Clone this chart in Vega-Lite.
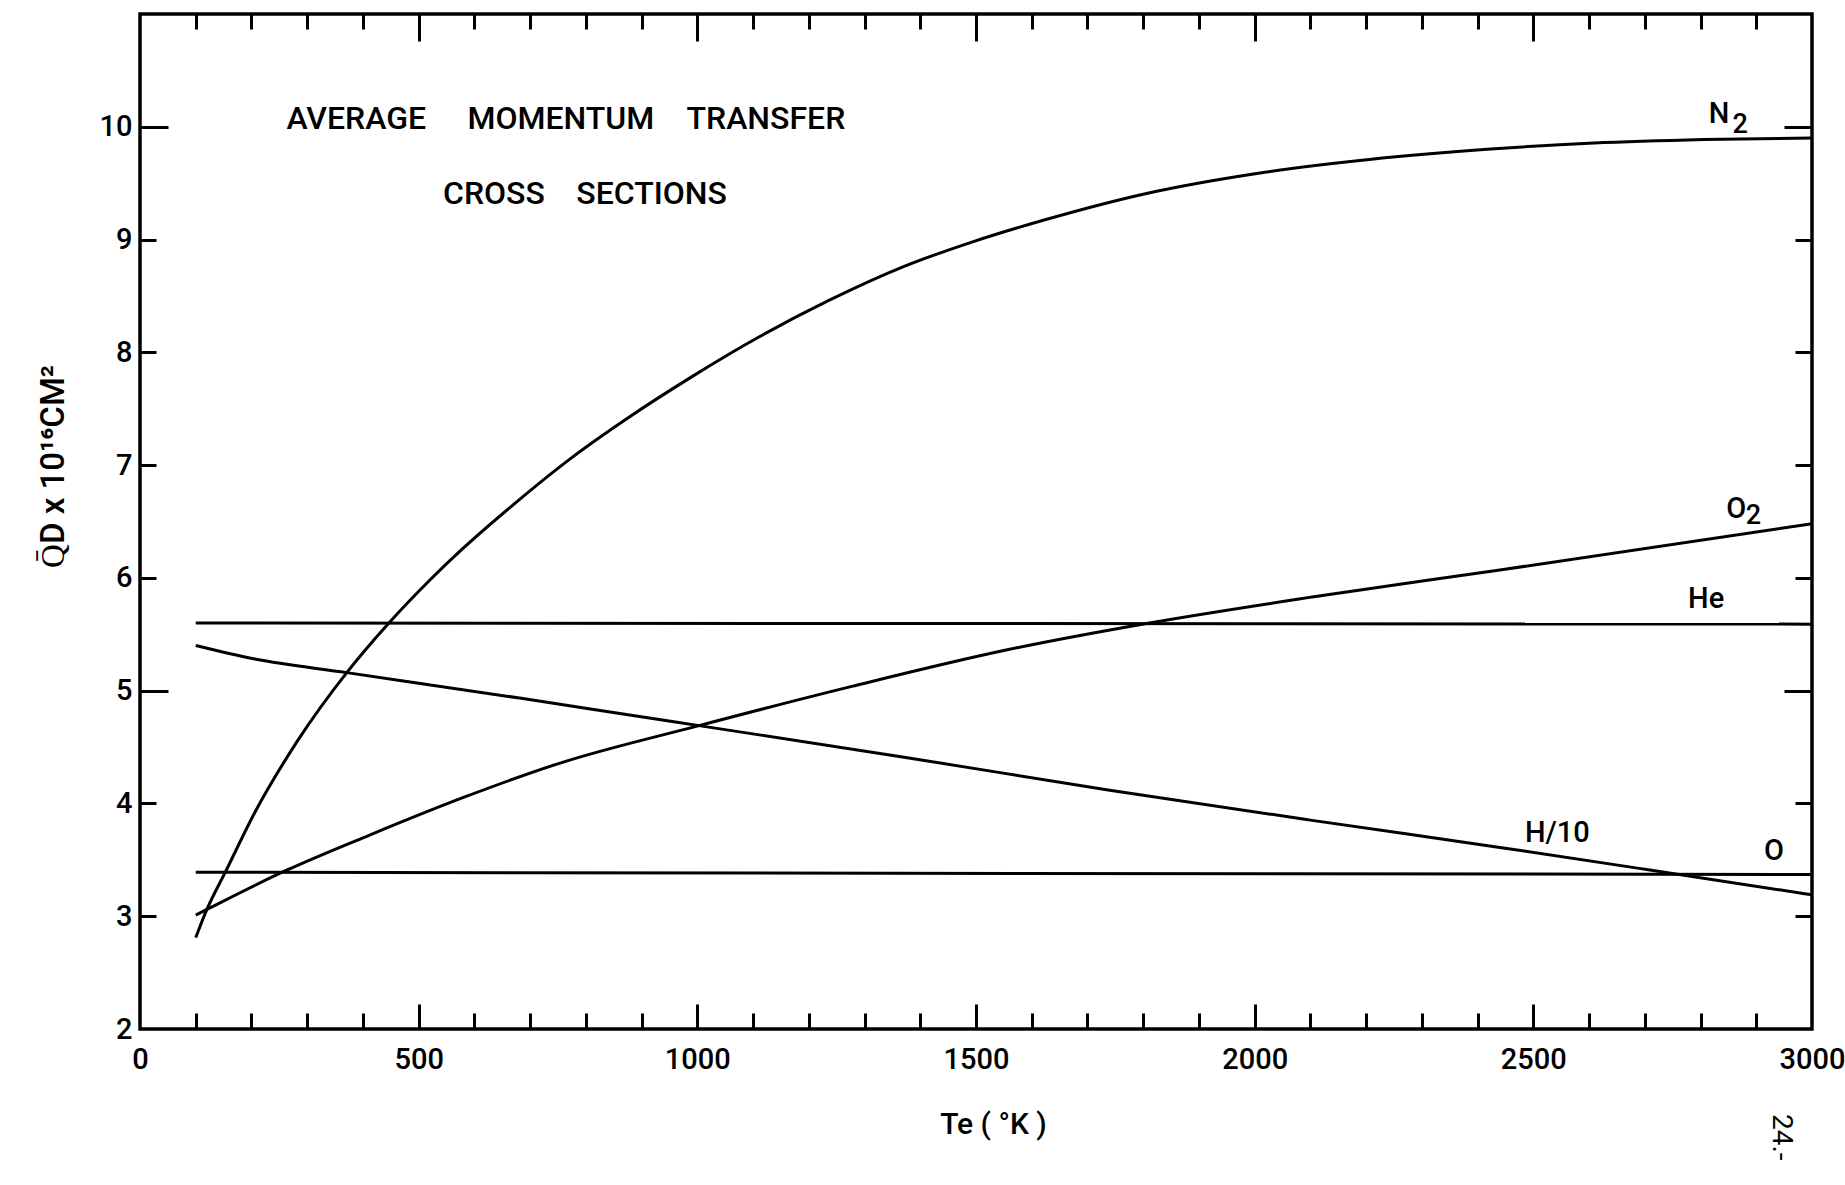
{
  "$schema": "https://vega.github.io/schema/vega-lite/v6.json",
  "autosize": {"type": "none"},
  "padding": {"left": 140, "top": 14, "right": 33, "bottom": 156},
  "width": 1672,
  "height": 1015,
  "background": "white",
  "config": {
    "view": {"stroke": "black", "strokeWidth": 3.5},
    "axis": {"domain": false, "grid": false, "tickColor": "black", "tickWidth": 3, "labelFont": "Roboto", "labelFontWeight": 500, "labelFontSize": 29, "labelColor": "black", "titleFont": "Roboto", "titleFontWeight": 500, "titleFontSize": 29, "titleColor": "black"},
    "text": {"font": "Roboto", "fontWeight": 500, "color": "black"}
  },
  "datasets": {
    "curves": [
      {"gas": "N2", "Te": 100, "Q": 2.81}, {"gas": "N2", "Te": 120, "Q": 3.06}, {"gas": "N2", "Te": 154, "Q": 3.40}, {"gas": "N2", "Te": 206, "Q": 3.92}, {"gas": "N2", "Te": 282, "Q": 4.55}, {"gas": "N2", "Te": 371, "Q": 5.16}, {"gas": "N2", "Te": 443, "Q": 5.58}, {"gas": "N2", "Te": 522, "Q": 5.99}, {"gas": "N2", "Te": 577, "Q": 6.25}, {"gas": "N2", "Te": 670, "Q": 6.65}, {"gas": "N2", "Te": 773, "Q": 7.06}, {"gas": "N2", "Te": 876, "Q": 7.42}, {"gas": "N2", "Te": 989, "Q": 7.78}, {"gas": "N2", "Te": 1112, "Q": 8.14}, {"gas": "N2", "Te": 1236, "Q": 8.46}, {"gas": "N2", "Te": 1370, "Q": 8.76}, {"gas": "N2", "Te": 1494, "Q": 8.98}, {"gas": "N2", "Te": 1627, "Q": 9.18}, {"gas": "N2", "Te": 1816, "Q": 9.42}, {"gas": "N2", "Te": 1995, "Q": 9.58}, {"gas": "N2", "Te": 2206, "Q": 9.71}, {"gas": "N2", "Te": 2417, "Q": 9.80}, {"gas": "N2", "Te": 2627, "Q": 9.86}, {"gas": "N2", "Te": 2838, "Q": 9.89}, {"gas": "N2", "Te": 3000, "Q": 9.90},
      {"gas": "O2", "Te": 100, "Q": 3.01}, {"gas": "O2", "Te": 120, "Q": 3.06}, {"gas": "O2", "Te": 264, "Q": 3.41}, {"gas": "O2", "Te": 412, "Q": 3.72}, {"gas": "O2", "Te": 584, "Q": 4.06}, {"gas": "O2", "Te": 755, "Q": 4.36}, {"gas": "O2", "Te": 1003, "Q": 4.69}, {"gas": "O2", "Te": 1279, "Q": 5.04}, {"gas": "O2", "Te": 1554, "Q": 5.36}, {"gas": "O2", "Te": 1811, "Q": 5.60}, {"gas": "O2", "Te": 2103, "Q": 5.83}, {"gas": "O2", "Te": 2440, "Q": 6.07}, {"gas": "O2", "Te": 3000, "Q": 6.48},
      {"gas": "H/10", "Te": 100, "Q": 5.40}, {"gas": "H/10", "Te": 206, "Q": 5.28}, {"gas": "H/10", "Te": 371, "Q": 5.16}, {"gas": "H/10", "Te": 687, "Q": 4.93}, {"gas": "H/10", "Te": 858, "Q": 4.80}, {"gas": "H/10", "Te": 1003, "Q": 4.69}, {"gas": "H/10", "Te": 1371, "Q": 4.41}, {"gas": "H/10", "Te": 1737, "Q": 4.12}, {"gas": "H/10", "Te": 2103, "Q": 3.85}, {"gas": "H/10", "Te": 2440, "Q": 3.61}, {"gas": "H/10", "Te": 2709, "Q": 3.41}, {"gas": "H/10", "Te": 3000, "Q": 3.19},
      {"gas": "He", "Te": 100, "Q": 5.60}, {"gas": "He", "Te": 3000, "Q": 5.59},
      {"gas": "O", "Te": 100, "Q": 3.39}, {"gas": "O", "Te": 3000, "Q": 3.37}
    ],
    "curveLabels": [
      {"text": "N", "Te": 2833, "Q": 10.11, "size": 29},
      {"text": "2", "Te": 2871, "Q": 10.02, "size": 27},
      {"text": "O", "Te": 2864, "Q": 6.61, "size": 29},
      {"text": "2", "Te": 2895, "Q": 6.55, "size": 27},
      {"text": "He", "Te": 2810, "Q": 5.81, "size": 29},
      {"text": "H/10", "Te": 2543, "Q": 3.74, "size": 29},
      {"text": "O", "Te": 2932, "Q": 3.58, "size": 29}
    ],
    "heading": [
      {"text": "AVERAGE", "Te": 388, "Q": 10.07},
      {"text": "MOMENTUM", "Te": 755, "Q": 10.07},
      {"text": "TRANSFER", "Te": 1123, "Q": 10.07},
      {"text": "CROSS", "Te": 635, "Q": 9.40},
      {"text": "SECTIONS", "Te": 918, "Q": 9.40}
    ],
    "page": [
      {"text": "24.-", "Te": 2945, "Q": 1.04}
    ]
  },
  "layer": [
    {
      "data": {"name": "curves"},
      "transform": [{"filter": "datum.gas === 'N2' || datum.gas === 'O2' || datum.gas === 'H/10'"}],
      "mark": {"type": "line", "color": "black", "strokeWidth": 3, "interpolate": "monotone"},
      "encoding": {
        "x": {"field": "Te", "type": "quantitative", "scale": {"domain": [0, 3000], "nice": false, "zero": false},
              "axis": {"orient": "bottom", "values": [0, 500, 1000, 1500, 2000, 2500, 3000], "format": "d", "ticks": false, "labelPadding": 16, "labelFlush": false, "labelOverlap": false,
                       "title": "Te  ( °K )", "titleFontSize": 30, "titleX": 853, "titleY": 95, "titleAlign": "center", "titleBaseline": "middle"}},
        "y": {"field": "Q", "type": "quantitative", "scale": {"domain": [2, 11], "nice": false, "zero": false},
              "axis": {"orient": "left", "values": [2, 3, 4, 5, 6, 7, 8, 9, 10], "format": "d", "ticks": false, "labelPadding": 8, "labelFlush": false, "labelOverlap": false,
                       "title": "Q̄D x 10¹⁶CM²", "titleFontSize": 33, "titleX": -87, "titleY": 452, "titleAngle": 270, "titleAlign": "center", "titleBaseline": "middle"}},
        "detail": {"field": "gas", "type": "nominal"}
      }
    },
    {
      "data": {"name": "curves"},
      "transform": [{"filter": "datum.gas === 'He' || datum.gas === 'O'"}],
      "mark": {"type": "line", "color": "black", "strokeWidth": 3},
      "encoding": {
        "x": {"field": "Te", "type": "quantitative", "axis": {"orient": "bottom", "values": [100, 200, 300, 400, 600, 700, 800, 900, 1100, 1200, 1300, 1400, 1600, 1700, 1800, 1900, 2100, 2200, 2300, 2400, 2600, 2700, 2800, 2900], "labels": false, "tickSize": -16, "title": null}},
        "y": {"field": "Q", "type": "quantitative", "axis": {"orient": "left", "values": [3, 4, 6, 7, 8, 9], "labels": false, "tickSize": -16, "title": null}},
        "detail": {"field": "gas", "type": "nominal"}
      }
    },
    {
      "data": {"name": "curveLabels"},
      "mark": {"type": "text", "align": "center", "baseline": "middle"},
      "encoding": {
        "x": {"field": "Te", "type": "quantitative", "axis": {"orient": "bottom", "values": [500, 1000, 1500, 2000, 2500], "labels": false, "tickSize": -25, "title": null}},
        "y": {"field": "Q", "type": "quantitative", "axis": {"orient": "left", "values": [5, 10], "labels": false, "tickSize": -28, "title": null}},
        "text": {"field": "text", "type": "nominal"},
        "size": {"field": "size", "type": "quantitative", "scale": null, "legend": null}
      }
    },
    {
      "data": {"name": "heading"},
      "mark": {"type": "text", "align": "center", "baseline": "middle", "fontSize": 32},
      "encoding": {
        "x": {"field": "Te", "type": "quantitative", "axis": {"orient": "top", "values": [100, 200, 300, 400, 600, 700, 800, 900, 1100, 1200, 1300, 1400, 1600, 1700, 1800, 1900, 2100, 2200, 2300, 2400, 2600, 2700, 2800, 2900], "labels": false, "tickSize": -15, "title": null}},
        "y": {"field": "Q", "type": "quantitative", "axis": {"orient": "right", "values": [3, 4, 6, 7, 8, 9], "labels": false, "tickSize": -17, "title": null}},
        "text": {"field": "text", "type": "nominal"}
      }
    },
    {
      "data": {"name": "page"},
      "mark": {"type": "text", "align": "center", "baseline": "middle", "fontSize": 28, "fontWeight": 400, "angle": 90},
      "encoding": {
        "x": {"field": "Te", "type": "quantitative", "axis": {"orient": "top", "values": [500, 1000, 1500, 2000, 2500], "labels": false, "tickSize": -27, "title": null}},
        "y": {"field": "Q", "type": "quantitative", "axis": {"orient": "right", "values": [5, 10], "labels": false, "tickSize": -28, "title": null}},
        "text": {"field": "text", "type": "nominal"}
      }
    }
  ],
  "resolve": {"axis": {"x": "independent", "y": "independent"}}
}
